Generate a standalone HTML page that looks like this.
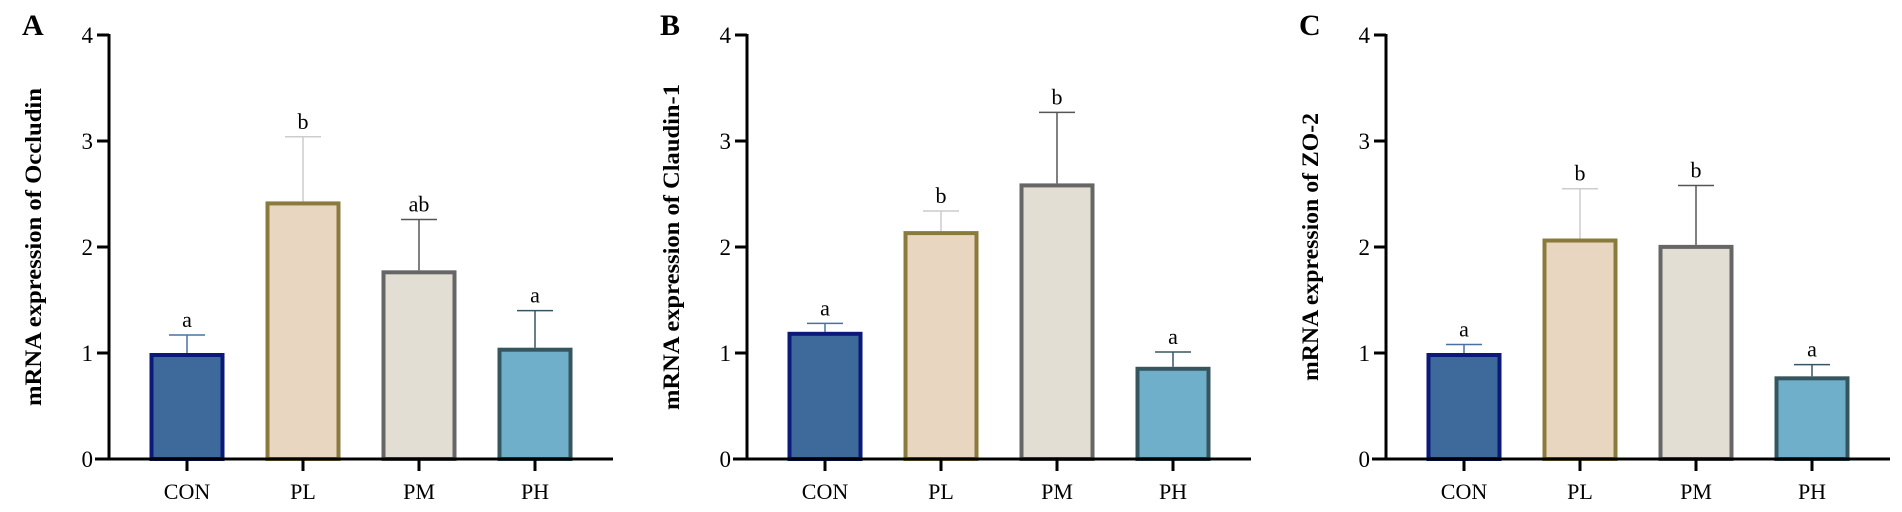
<!DOCTYPE html>
<html><head><meta charset="utf-8"><style>
html,body{margin:0;padding:0;background:#fff;}
svg{display:block;font-family:"Liberation Serif",serif;}
</style></head><body>
<svg id="chart" width="1902" height="512" viewBox="0 0 1902 512" xmlns="http://www.w3.org/2000/svg"></svg>
<script>
const categories = ["CON","PL","PM","PH"];
const yTicks = [0,1,2,3,4];
const panelLetters = ["A","B","C"];
const panelGenes = ["Occludin","Claudin-1","ZO-2"];
const meansA = [1.0, 2.43, 1.78, 1.05];
const errA   = [0.17, 0.61, 0.48, 0.35];
const lettersA = ["a","b","ab","a"];
const meansB = [1.2, 2.15, 2.6, 0.87];
const errB   = [0.08, 0.19, 0.67, 0.14];
const lettersB = ["a","b","b","a"];
const meansC = [1.0, 2.08, 2.02, 0.78];
const errC   = [0.08, 0.47, 0.56, 0.11];
const lettersC = ["a","b","b","a"];

const fills = ["#3d6a9b","#e8d6c1","#e3ded4","#6fafc9"];
const strokes = ["#0b1a78","#8a7b3c","#666666","#36565f"];
const errColors = ["#4a70a2","#cccccc","#555555","#36565f"];

const NS="http://www.w3.org/2000/svg";
const svg=document.getElementById('chart');
function mk(tag,attrs,parent){const e=document.createElementNS(NS,tag);for(const k in attrs)e.setAttribute(k,attrs[k]);(parent||svg).appendChild(e);return e;}

const panelAxisX=[109,747,1386];
const titleLens=[318,326,268];
const y0=459, unit=106;
function yScale(v){return y0-v*unit;}
function xScale(i,ax){return ax+78+i*116;}
const barW=75;

const allMeans=[meansA,meansB,meansC], allErr=[errA,errB,errC], allLetters=[lettersA,lettersB,lettersC];

for(let p=0;p<3;p++){
  const ax=panelAxisX[p];
  const g=mk('g',{});
  
  
  const lt=mk('text',{x:ax-87,y:35,'font-size':30,'font-weight':'bold',fill:'#000'},g);
  lt.textContent=panelLetters[p];
  
  
  const yt=mk('text',{x:0,y:0,'font-size':23,'font-weight':'bold','text-anchor':'middle',textLength:titleLens[p],lengthAdjust:'spacingAndGlyphs',transform:`translate(${ax-68},${(yScale(4)+y0)/2}) rotate(-90)`},g);
  yt.textContent='mRNA expression of  '+panelGenes[p];
  
  
  for(let i=0;i<4;i++){
    const cx=xScale(i,ax), v=allMeans[p][i], e=allErr[p][i];
    const top=yScale(v+e);
    const el=mk('line',{x1:cx,x2:cx,y1:yScale(v),y2:top,stroke:errColors[i],'stroke-width':1.5},g);
    
    
    const cap=mk('line',{x1:cx-18,x2:cx+18,y1:top,y2:top,stroke:errColors[i],'stroke-width':1.5},g);
    
    
    const r=mk('rect',{x:cx-barW/2+2,y:yScale(v)+2,width:barW-4,height:v*unit-2,fill:fills[i],stroke:strokes[i],'stroke-width':4},g);
    
    
    const sl=mk('text',{x:cx,y:top-8,'font-size':22,'text-anchor':'middle',fill:'#000'},g);
    sl.textContent=allLetters[p][i];
    
    
    const tk=mk('line',{x1:cx,x2:cx,y1:y0,y2:471,stroke:'#000','stroke-width':3},g);
    
    
    const cl=mk('text',{x:cx,y:499,'font-size':22,'text-anchor':'middle',fill:'#000'},g);
    cl.textContent=categories[i];
    
    
  }
  const yax=mk('line',{x1:ax,x2:ax,y1:yScale(4)-1,y2:y0+1.5,stroke:'#000','stroke-width':3},g);
  
  
  const xax=mk('line',{x1:ax-14,x2:ax+504,y1:y0,y2:y0,stroke:'#000','stroke-width':3},g);
  
  
  for(const t of yTicks){
    const tl=mk('line',{x1:ax-12,x2:ax,y1:yScale(t),y2:yScale(t),stroke:'#000','stroke-width':3},g);
    
    
    const tt=mk('text',{x:ax-16,y:yScale(t)+8,'font-size':23,'text-anchor':'end',fill:'#000'},g);
    tt.textContent=String(t);
    
    
  }
}
</script>
</body></html>
